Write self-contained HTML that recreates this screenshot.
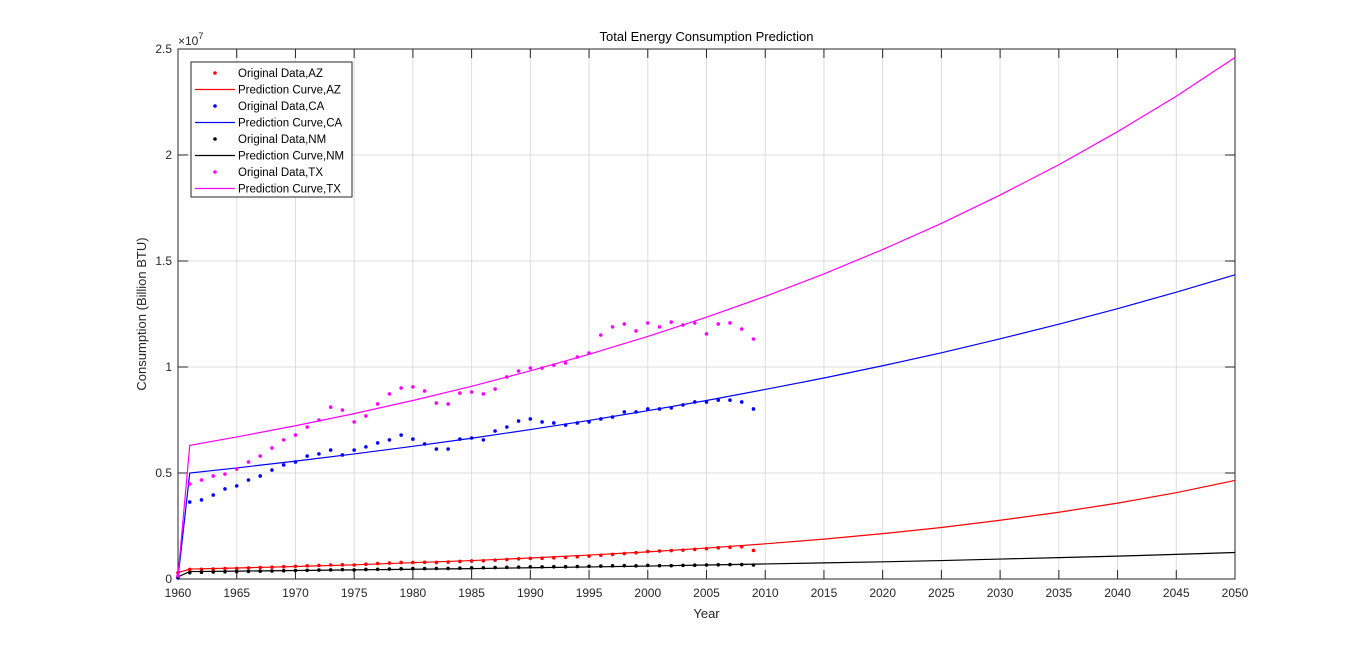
<!DOCTYPE html>
<html><head><meta charset="utf-8"><style>
body{margin:0;background:#fff;width:1366px;height:651px;overflow:hidden}
svg{font-family:"Liberation Sans",Arial,sans-serif}
</style></head><body>
<svg id="chart" width="1366" height="651"></svg>
<script>
const years = [];
for (let y = 1960; y <= 2009; y++) years.push(y);
const azData = [0.03,.045,.046,.047,.049,.05,.052,.054,.056,.058,.06,.062,.064,.066,.067,.066,.07,.073,.075,.078,.078,.079,.078,.08,.083,.085,.086,.089,.092,.095,.097,.098,.1,.102,.105,.108,.112,.116,.12,.124,.13,.132,.134,.136,.14,.143,.147,.15,.152,.135];
const caData = [0.005,.363,.373,.396,.425,.439,.467,.486,.514,.538,.552,.580,.590,.608,.585,.608,.623,.642,.656,.679,.660,.637,.613,.613,.660,.665,.656,.698,.717,.745,.755,.741,.736,.726,.736,.741,.755,.764,.788,.788,.802,.802,.807,.821,.835,.835,.844,.844,.835,.802];
const nmData = [0.01,.03,.032,.033,.034,.035,.036,.037,.038,.039,.04,.041,.042,.043,.044,.043,.045,.046,.047,.048,.049,.049,.05,.05,.051,.052,.053,.054,.055,.056,.057,.057,.058,.058,.059,.06,.061,.062,.063,.062,.064,.063,.063,.064,.065,.066,.067,.068,.068,.066];
const txData = [0.015,.448,.467,.486,.495,.519,.552,.580,.618,.656,.679,.717,.750,.811,.797,.741,.769,.826,.873,.901,.906,.887,.830,.825,.877,.882,.873,.896,.953,.981,.995,.995,1.009,1.019,1.047,1.066,1.151,1.189,1.203,1.170,1.208,1.189,1.212,1.198,1.208,1.156,1.203,1.208,1.179,1.132];
const predYears = [1960,1961,1965,1970,1975,1980,1985,1990,1995,2000,2005,2010,2015,2020,2025,2030,2035,2040,2045,2050];
const azPred = [0.03,.047,.052,.059,.067,.077,.087,.099,.113,.128,.146,.166,.188,.214,.243,.277,.315,.358,.407,.465];
const caPred = [0.005,.50,.524,.556,.590,.626,.664,.705,.748,.794,.842,.894,.948,1.006,1.067,1.133,1.202,1.275,1.353,1.435];
const nmPred = [0.01,.035,.037,.040,.043,.046,.049,.053,.057,.061,.066,.071,.076,.081,.087,.094,.101,.108,.116,.125];
const txPred = [0.015,.63,.670,.723,.780,.842,.909,.982,1.060,1.144,1.235,1.333,1.439,1.554,1.677,1.811,1.954,2.110,2.277,2.46];
const xTicks = [1960,1965,1970,1975,1980,1985,1990,1995,2000,2005,2010,2015,2020,2025,2030,2035,2040,2045,2050];
const yTicks = [0,0.5,1,1.5,2,2.5];
const yTickLabels = ["0","0.5","1","1.5","2","2.5"];

const L=178,R=1235,T=49,B=579;
const X=v=>L+(v-1960)/90*(R-L);
const Y=v=>B-v/2.5*(B-T);
const svg=document.getElementById('chart');
const NS='http://www.w3.org/2000/svg';
function mk(tag,at,txt){const e=document.createElementNS(NS,tag);for(const k in at)e.setAttribute(k,at[k]);if(txt!==undefined)e.textContent=txt;svg.appendChild(e);return e;}

// grid
xTicks.forEach(t=>{const e=mk('line',{x1:X(t),x2:X(t),y1:T,y2:B,stroke:'#dcdcdc','stroke-width':1});

});
yTicks.forEach(t=>{const e=mk('line',{x1:L,x2:R,y1:Y(t),y2:Y(t),stroke:'#dcdcdc','stroke-width':1});

});
// box
const box=mk('rect',{x:L,y:T,width:R-L,height:B-T,fill:'none',stroke:'#262626','stroke-width':1});


// ticks
xTicks.forEach(t=>{mk('line',{x1:X(t),x2:X(t),y1:B,y2:B-9,stroke:'#262626'});mk('line',{x1:X(t),x2:X(t),y1:T,y2:T+9,stroke:'#262626'});
const e=mk('text',{x:X(t),y:B+18,'font-size':12,'text-anchor':'middle',fill:'#262626'},t);

});
yTicks.forEach((t,i)=>{mk('line',{x1:L,x2:L+10,y1:Y(t),y2:Y(t),stroke:'#262626'});mk('line',{x1:R,x2:R-10,y1:Y(t),y2:Y(t),stroke:'#262626'});
const e=mk('text',{x:L-6,y:Y(t)+4,'font-size':12,'text-anchor':'end',fill:'#262626'},yTickLabels[i]);

});
const ex=mk('text',{x:L,y:T-4,'font-size':12,fill:'#262626'});
ex.innerHTML='×10<tspan dy="-6" font-size="9">7</tspan>';



const series=[
 {n:'az',c:'#ff0000',d:azData,p:azPred},
 {n:'ca',c:'#0000ff',d:caData,p:caPred},
 {n:'nm',c:'#000000',d:nmData,p:nmPred},
 {n:'tx',c:'#ff00ff',d:txData,p:txPred}];
series.forEach(s=>{
 const pl=mk('polyline',{points:predYears.map((y,i)=>X(y)+','+Y(s.p[i])).join(' '),fill:'none',stroke:s.c,'stroke-width':1.2});
 
 
 s.d.forEach((v,i)=>{const c=mk('circle',{cx:X(years[i]),cy:Y(v),r:1.8,fill:s.c});
 
 });
});

const ti=mk('text',{x:(L+R)/2,y:41,'font-size':13,'text-anchor':'middle',fill:'#000'},'Total Energy Consumption Prediction');


const xl=mk('text',{x:(L+R)/2,y:618,'font-size':13,'text-anchor':'middle',fill:'#262626'},'Year');


const yl=mk('text',{x:0,y:0,'font-size':13,'text-anchor':'middle',fill:'#262626',transform:'translate(146,'+((T+B)/2)+') rotate(-90)'},'Consumption (Billion BTU)');



// legend
const lg=mk('rect',{x:191,y:62,width:161,height:135,fill:'#fff',stroke:'#262626','stroke-width':1});


const legendLabels=['Original Data,AZ','Prediction Curve,AZ','Original Data,CA','Prediction Curve,CA','Original Data,NM','Prediction Curve,NM','Original Data,TX','Prediction Curve,TX'];
legendLabels.forEach((lab,i)=>{
 const s=series[Math.floor(i/2)];const cy=73+i*16.5;
 if(i%2===0){mk('circle',{cx:215,cy:cy,r:1.8,fill:s.c});}
 else{mk('line',{x1:195,x2:235,y1:cy,y2:cy,stroke:s.c,'stroke-width':1.2});}
 const t=mk('text',{x:238,y:cy+4,'font-size':11.5,fill:'#000'},lab);
 
 
});
</script>
</body></html>
